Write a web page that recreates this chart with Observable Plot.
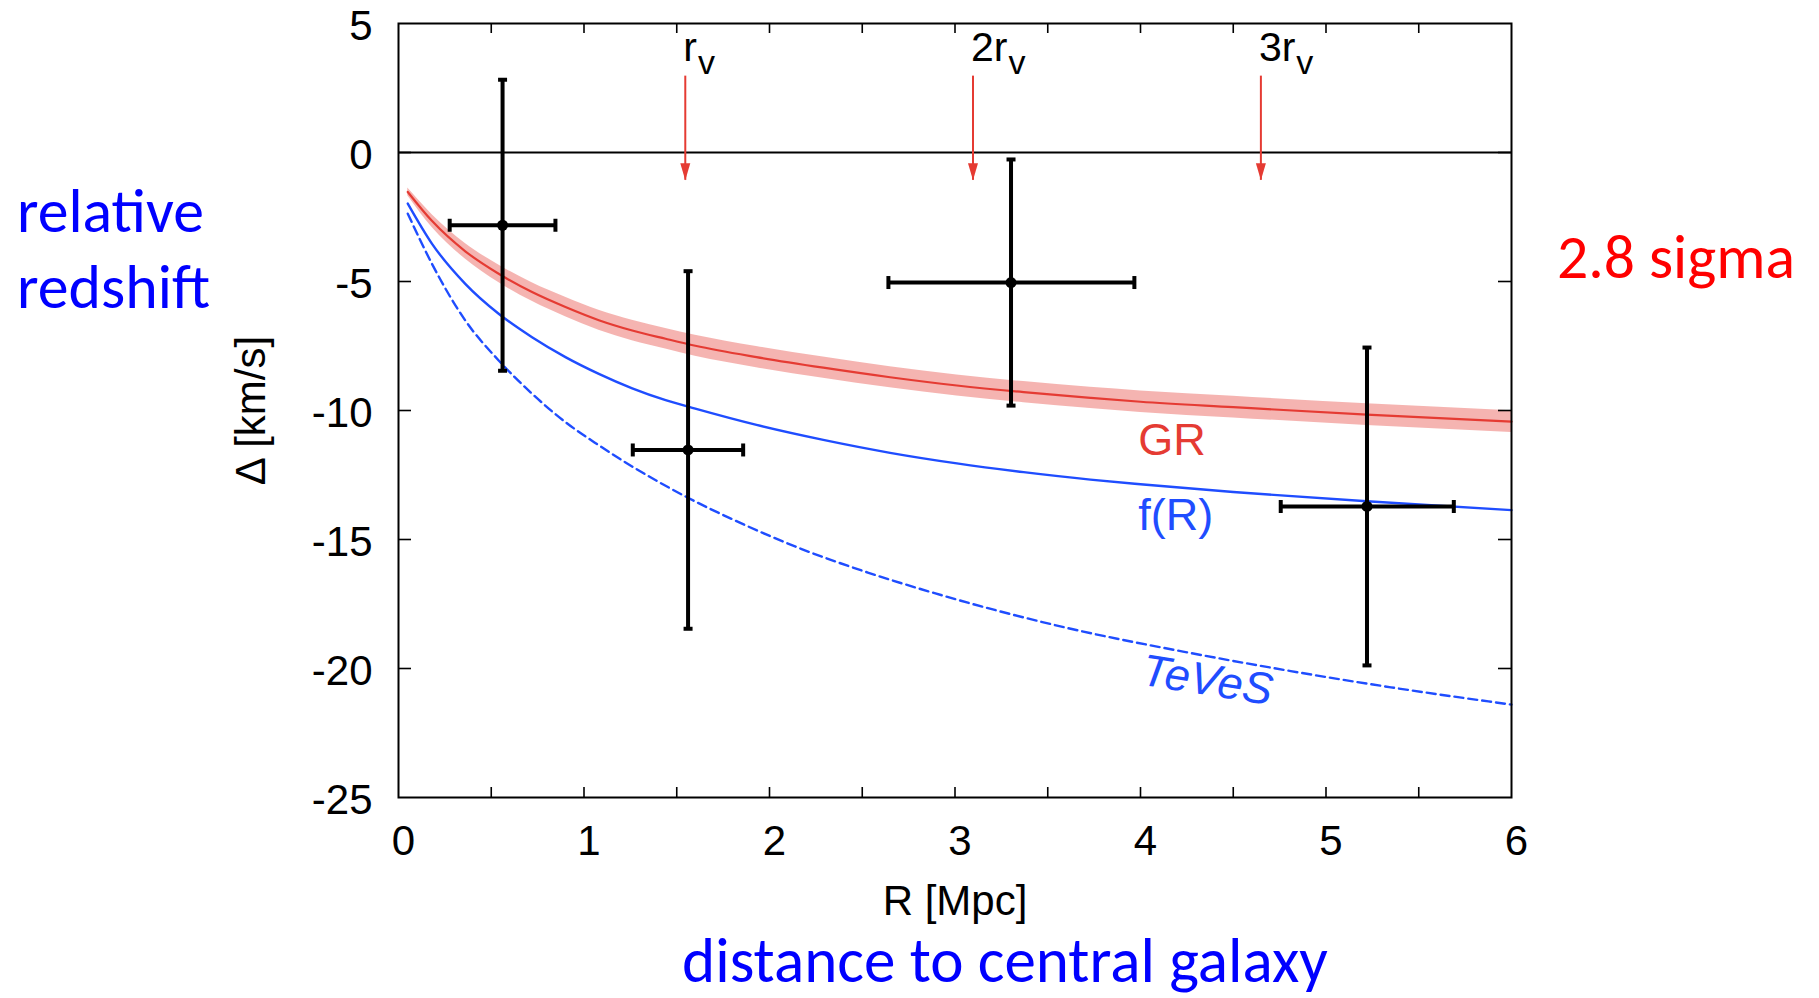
<!DOCTYPE html>
<html>
<head>
<meta charset="utf-8">
<script src="https://cdn.jsdelivr.net/npm/d3@7"></script>
<script src="https://cdn.jsdelivr.net/npm/@observablehq/plot@0.6"></script>
<style>
  html, body { margin: 0; padding: 0; background: #fff; }
  #wrap { position: relative; width: 1819px; height: 998px; overflow: hidden; }
  #wrap > svg { display: block; }
  #overlay { position: absolute; left: 0; top: 0; pointer-events: none; }
</style>
</head>
<body>
<div id="wrap"></div>
<script>
// ---------------- data ----------------
// observed stacked redshift offsets
const obsR        = [0.561, 1.561, 3.302, 5.221];
const obsDelta    = [-2.82, -11.53, -5.04, -13.72];
const obsDeltaErr = [5.64, 6.93, 4.77, 6.16];
const obsRLow     = [0.276, 1.263, 2.641, 4.756];
const obsRHigh    = [0.846, 1.858, 3.967, 5.689];

// GR prediction (line + band half-width)
const grR     = [0.05, 0.18, 0.36, 0.54, 0.72, 0.90, 1.08, 1.26, 1.44, 1.60, 1.93, 2.29, 2.65, 3.01, 3.37, 3.73, 4.00, 4.50, 5.22, 6.00];
const grDelta = [-1.53, -2.65, -3.83, -4.70, -5.41, -5.99, -6.50, -6.90, -7.22, -7.49, -7.93, -8.34, -8.71, -9.03, -9.29, -9.51, -9.66, -9.87, -10.16, -10.43];
const grBand  = [0.15, 0.25, 0.30, 0.34, 0.36, 0.38, 0.39, 0.40, 0.40, 0.41, 0.41, 0.41, 0.41, 0.41, 0.41, 0.41, 0.42, 0.42, 0.42, 0.42];

// f(R) prediction
const frR     = [0.05, 0.18, 0.36, 0.54, 0.72, 0.90, 1.08, 1.26, 1.44, 1.60, 1.93, 2.29, 2.65, 3.01, 3.37, 3.73, 4.00, 4.50, 5.22, 6.00];
const frDelta = [-1.98, -3.53, -5.09, -6.25, -7.16, -7.93, -8.58, -9.14, -9.60, -9.93, -10.56, -11.14, -11.64, -12.05, -12.39, -12.68, -12.86, -13.16, -13.52, -13.86];

// TeVeS prediction
const tvR     = [0.05, 0.18, 0.36, 0.54, 0.72, 0.90, 1.08, 1.56, 1.81, 2.17, 2.53, 2.89, 3.24, 3.60, 4.27, 4.81, 5.35, 6.00];
const tvDelta = [-2.37, -4.31, -6.51, -8.06, -9.35, -10.45, -11.35, -13.38, -14.25, -15.36, -16.28, -17.08, -17.78, -18.42, -19.40, -20.10, -20.73, -21.40];

// virial-radius markers
const rvR     = [1.546, 3.097, 4.649];
const rvMain  = ["r", "2r", "3r"];
const rvSub   = "v";
const arrowTop = 2.96;
const arrowTip = -1.08;

// curve labels (data coordinates)
const labelText = ["GR", "f(R)", "TeVeS"];
const labelR    = [4.17, 4.19, 4.36];
const labelD    = [-11.16, -14.07, -20.47];

// axes
const xTickLabels = [0, 1, 2, 3, 4, 5, 6];
const xTickMarks  = [0.5, 1, 1.5, 2, 2.5, 3, 3.5, 4, 4.5, 5, 5.5];
const yTickLabels = [5, 0, -5, -10, -15, -20, -25];
const yTickMarks  = [0, -5, -10, -15, -20];
const xTitle = "R [Mpc]";
const yTitle = "Δ [km/s]";

// ---------------- layout / style ----------------
const W = 1819, H = 998;
const mL = 398, mR = 308, mT = 23, mB = 201;
const frameW = W - mL - mR, frameH = H - mT - mB;
const FONT = "'Liberation Sans', Arial, Helvetica, sans-serif";
const RED = "#e53b33";
const BLUE = "#1f4dff";

const obs = obsR.map((r, i) => ({r, d: obsDelta[i], e: obsDeltaErr[i], lo: obsRLow[i], hi: obsRHigh[i]}));
const gr = grR.map((r, i) => ({r, d: grDelta[i], e: grBand[i]}));
const fr = frR.map((r, i) => ({r, d: frDelta[i]}));
const tv = tvR.map((r, i) => ({r, d: tvDelta[i]}));
const rv = rvR.map((r, i) => ({r, main: rvMain[i]}));

// custom symbols
const capH = {draw(c) { c.moveTo(-4.5, 0); c.lineTo(4.5, 0); }};
const capV = {draw(c) { c.moveTo(0, -6.5); c.lineTo(0, 6.5); }};
const head = {draw(c) { c.moveTo(0, 0); c.lineTo(-5, -17); c.lineTo(5, -17); c.closePath(); }};

const mctx = document.createElement("canvas").getContext("2d");
const RV_SIZE = 41;
mctx.font = `${RV_SIZE}px ${FONT}`;

const errStyle = {stroke: "black", strokeWidth: 4};
const CURVE = "monotone-x";

const chart = Plot.plot({
  width: W, height: H,
  marginLeft: mL, marginRight: mR, marginTop: mT, marginBottom: mB,
  style: {fontFamily: FONT, background: "white", overflow: "visible", color: "black"},
  x: {domain: [0, 6]},
  y: {domain: [-25, 5]},
  marks: [
    // GR band + curves
    Plot.areaY(gr, {x: "r", y1: d => d.d - d.e, y2: d => d.d + d.e, fill: RED, fillOpacity: 0.38, curve: CURVE}),
    Plot.line(gr, {x: "r", y: "d", stroke: RED, strokeWidth: 2.2, curve: CURVE}),
    Plot.line(fr, {x: "r", y: "d", stroke: BLUE, strokeWidth: 2.4, curve: CURVE}),
    Plot.line(tv, {x: "r", y: "d", stroke: BLUE, strokeWidth: 2.4, strokeDasharray: "9,5", curve: CURVE}),

    // zero line
    Plot.ruleY([0], {stroke: "black", strokeWidth: 2}),

    // r_v arrows
    Plot.ruleX(rv, {x: "r", y1: arrowTop, y2: arrowTip, stroke: RED, strokeWidth: 2}),
    Plot.dot(rv, {x: "r", y: arrowTip, symbol: head, fill: RED, stroke: "none"}),
    Plot.text(rv, {x: "r", y: arrowTop, text: "main", textAnchor: "start", lineAnchor: "bottom", dy: -15, dx: -2, fontSize: RV_SIZE, fill: "black"}),
    ...rv.map(d => Plot.text([d], {x: "r", y: arrowTop, text: () => rvSub, textAnchor: "start", lineAnchor: "bottom", dy: -2, dx: -1 + mctx.measureText(d.main).width, fontSize: 34, fill: "black"})),

    // error bars
    Plot.ruleX(obs, {x: "r", y1: d => d.d - d.e, y2: d => d.d + d.e, ...errStyle}),
    Plot.ruleY(obs, {y: "d", x1: "lo", x2: "hi", ...errStyle}),
    Plot.dot(obs, {x: "r", y: d => d.d + d.e, symbol: capH, fill: "none", ...errStyle}),
    Plot.dot(obs, {x: "r", y: d => d.d - d.e, symbol: capH, fill: "none", ...errStyle}),
    Plot.dot(obs, {x: "lo", y: "d", symbol: capV, fill: "none", ...errStyle}),
    Plot.dot(obs, {x: "hi", y: "d", symbol: capV, fill: "none", ...errStyle}),
    Plot.dot(obs, {x: "r", y: "d", r: 5.5, fill: "black", stroke: "none"}),

    // curve labels
    Plot.text([0], {x: labelR[0], y: labelD[0], text: () => labelText[0], fill: RED, fontSize: 45}),
    Plot.text([1], {x: labelR[1], y: labelD[1], text: () => labelText[1], fill: BLUE, fontSize: 45}),
    Plot.text([2], {x: labelR[2], y: labelD[2], text: () => labelText[2], fill: BLUE, fontSize: 45, fontStyle: "italic", rotate: 9}),

    // inward ticks
    Plot.tickX(xTickMarks, {x: d => d, insetTop: frameH - 10, stroke: "black", strokeWidth: 1.6}),
    Plot.tickX(xTickMarks, {x: d => d, insetBottom: frameH - 10, stroke: "black", strokeWidth: 1.6}),
    Plot.tickY(yTickMarks, {y: d => d, insetRight: frameW - 13, stroke: "black", strokeWidth: 1.6}),
    Plot.tickY(yTickMarks, {y: d => d, insetLeft: frameW - 13, stroke: "black", strokeWidth: 1.6}),

    // axes labels
    Plot.axisX(xTickLabels, {tickSize: 0, tickPadding: 28, dx: 5, fontSize: 42, label: null, tickFormat: d => String(d)}),
    Plot.axisY(yTickLabels, {tickSize: 0, tickPadding: 26, dy: 3, fontSize: 42, label: null, tickFormat: d => String(d)}),
    Plot.text([xTitle], {frameAnchor: "bottom", text: d => d, dy: 104, textAnchor: "middle", lineAnchor: "middle", fontSize: 42, fill: "black"}),
    Plot.text([yTitle], {frameAnchor: "left", text: d => d, dx: -147, rotate: -90, textAnchor: "middle", lineAnchor: "middle", fontSize: 42, fill: "black"}),

    Plot.frame({stroke: "black", strokeWidth: 2})
  ]
});

const wrap = document.getElementById("wrap");
wrap.appendChild(chart);

// ---------------- slide annotations (outside the plot) ----------------
const ov = d3.select(wrap).append("svg").attr("id", "overlay").attr("width", W).attr("height", H);
function note(text, x, baseline, targetWidth, color) {
  const base = 60;
  const t = ov.append("text")
    .attr("x", x).attr("y", baseline)
    .attr("fill", color)
    .style("font-family", "Carlito, Lato, 'Open Sans', sans-serif")
    .style("font-size", base + "px")
    .text(text);
  const w = t.node().getComputedTextLength();
  if (w > 0) t.style("font-size", (base * targetWidth / w).toFixed(2) + "px");
}
note("relative", 17, 232, 187, "#0000ff");
note("redshift", 17, 308, 193, "#0000ff");
note("2.8 sigma", 1557, 278, 238, "#ff0000");
note("distance to central galaxy", 682, 982, 646, "#0000ff");
</script>
</body>
</html>
